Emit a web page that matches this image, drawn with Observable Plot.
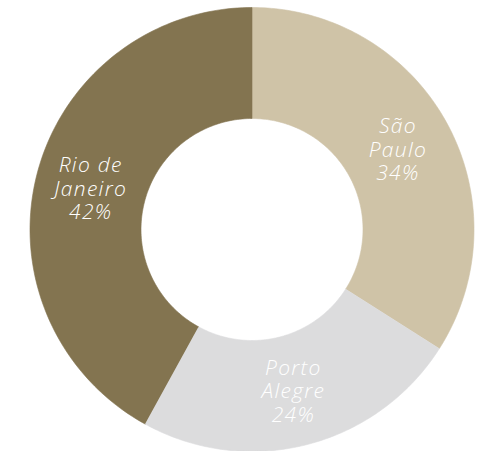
<!DOCTYPE html>
<html>
<head>
<meta charset="utf-8">
<script src="https://cdn.jsdelivr.net/npm/d3@7"></script>
<script src="https://cdn.jsdelivr.net/npm/@observablehq/plot@0.6"></script>
<style>
  html, body { margin: 0; padding: 0; background: #fff; }
  #chart svg { display: block; }
  #chart svg text { letter-spacing: 1.3px; }
</style>
</head>
<body>
<div id="chart"></div>
<script>
const cities = ["São Paulo", "Porto Alegre", "Rio de Janeiro"];
const labelLines = ["São\nPaulo", "Porto\nAlegre", "Rio de\nJaneiro"];
const shares = [34, 24, 42];
const colors = ["#cfc3a7", "#dcdcdd", "#837450"];

const rows = cities.map((c, i) => ({city: c, label: labelLines[i], share: shares[i]}));
const arcs = d3.pie().sort(null).value(d => d.share)(rows);

const R = 1, r0 = 0.5;
const pts = [];
for (const a of arcs) {
  const n = 120;
  for (let k = 0; k <= n; k++) {
    const t = a.startAngle + (a.endAngle - a.startAngle) * k / n;
    pts.push({city: a.data.city, x: R * Math.sin(t), y: R * Math.cos(t)});
  }
  for (let k = n; k >= 0; k--) {
    const t = a.startAngle + (a.endAngle - a.startAngle) * k / n;
    pts.push({city: a.data.city, x: r0 * Math.sin(t), y: r0 * Math.cos(t)});
  }
}
const labs = arcs.map(a => {
  const m = (a.startAngle + a.endAngle) / 2, rm = (R + r0) / 2;
  return {city: a.data.city, text: a.data.label + "\n" + a.data.share + "%", x: rm * Math.sin(m), y: rm * Math.cos(m)};
});

const chart = Plot.plot({
  width: 479,
  height: 451,
  marginLeft: 29.5,
  marginRight: 5.5,
  marginTop: 7,
  marginBottom: 0,
  x: {domain: [-1, 1], axis: null},
  y: {domain: [-1, 1], axis: null},
  color: {domain: cities, range: colors},
  style: {background: "#fff"},
  marks: [
    Plot.line(pts, {x: "x", y: "y", z: "city", fill: "city", stroke: "city", strokeWidth: 0.6}),
    Plot.text(labs, {
      x: "x", y: "y", text: "text", fill: "white",
      fontSize: 21, fontStyle: "italic", fontWeight: 300,
      fontFamily: "'Open Sans', Lato, sans-serif", lineHeight: 1.12
    })
  ]
});
document.getElementById("chart").appendChild(chart);
</script>
</body>
</html>
